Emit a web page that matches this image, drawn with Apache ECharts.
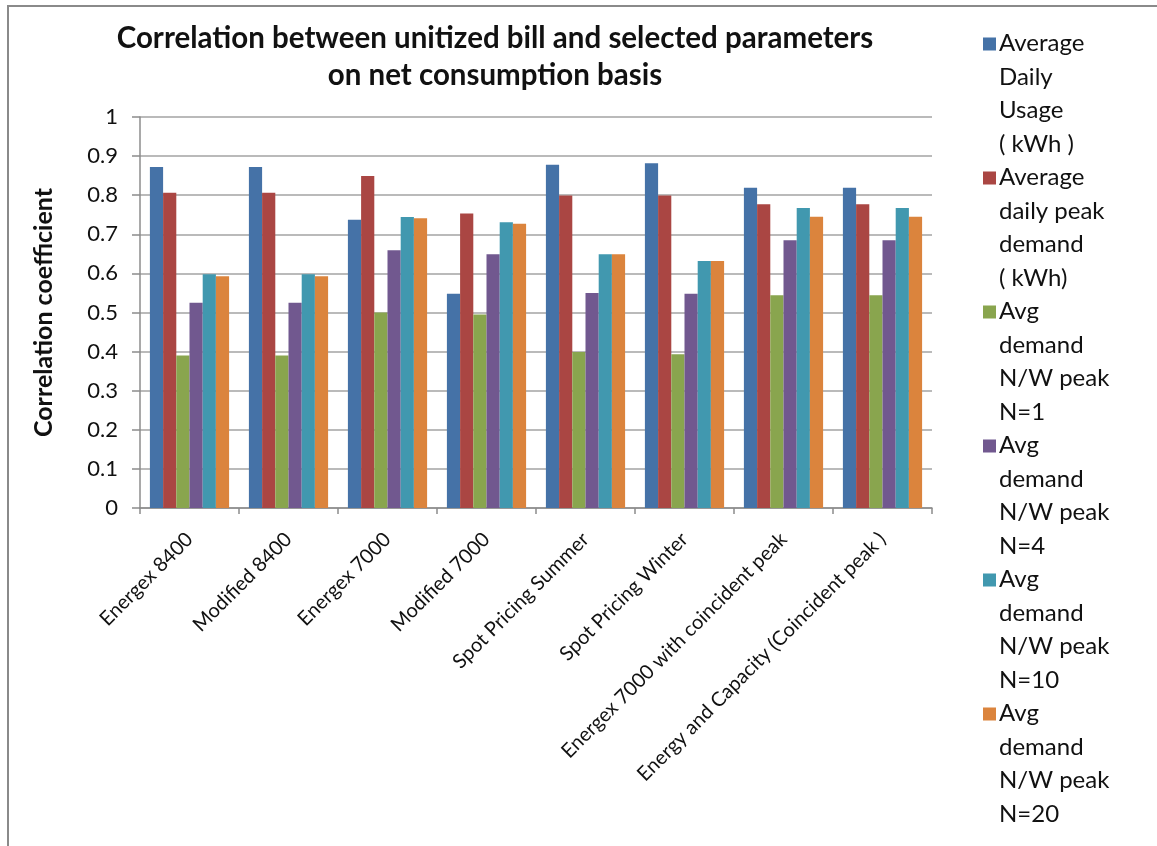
<!DOCTYPE html>
<html>
<head>
<meta charset="utf-8">
<script src="https://cdn.jsdelivr.net/npm/echarts@6/dist/echarts.min.js"></script>
<style>
  html, body { margin: 0; padding: 0; background: #fff; overflow: hidden; }
  #frame { position: absolute; left: 7px; top: 5px; width: 1200px; height: 900px;
           border-left: 2px solid #8a8a8a; border-top: 2px solid #8a8a8a; }
  #chart { position: absolute; left: 0; top: 0; width: 1157px; height: 846px; }
</style>
</head>
<body>
<div id="frame"></div>
<div id="chart"></div>
<script>
// Tariff scenarios along the x axis
const categories = [
  'Energex 8400',
  'Modified 8400',
  'Energex 7000',
  'Modified 7000',
  'Spot Pricing Summer',
  'Spot Pricing Winter',
  'Energex 7000 with coincident peak',
  'Energy and Capacity (Coincident peak )'
];

// Parameter names (legend entries)
const seriesNames = [
  'Average\nDaily\nUsage\n( kWh )',
  'Average\ndaily peak\ndemand\n( kWh)',
  'Avg\ndemand\nN/W peak\nN=1',
  'Avg\ndemand\nN/W peak\nN=4',
  'Avg\ndemand\nN/W peak\nN=10',
  'Avg\ndemand\nN/W peak\nN=20'
];

// Correlation coefficients, one array per parameter
const avgDailyUsage   = [0.872, 0.872, 0.737, 0.548, 0.878, 0.882, 0.819, 0.819];
const avgDailyPeak    = [0.806, 0.806, 0.849, 0.753, 0.799, 0.799, 0.777, 0.777];
const avgDemandN1     = [0.390, 0.390, 0.500, 0.495, 0.399, 0.393, 0.544, 0.544];
const avgDemandN4     = [0.525, 0.525, 0.659, 0.649, 0.550, 0.548, 0.685, 0.685];
const avgDemandN10    = [0.598, 0.598, 0.744, 0.731, 0.649, 0.632, 0.767, 0.767];
const avgDemandN20    = [0.593, 0.593, 0.741, 0.727, 0.649, 0.632, 0.745, 0.745];

// Y axis ticks
const yMin = 0, yMax = 1, yStep = 0.1;

const seriesData = [avgDailyUsage, avgDailyPeak, avgDemandN1, avgDemandN4, avgDemandN10, avgDemandN20];
const colors = ['#4572A7', '#AA4643', '#89A54E', '#71588F', '#4198AF', '#DB843D'];

const font = 'Lato, "Open Sans", "Liberation Sans", sans-serif';

// Legend marker: a square sitting on the first text line of a 4-line entry
const legendLine = 33.5;
const legendIcon = 'path://M0,10.5L13,10.5L13,23.5L0,23.5Z M0,0L13,0 M0,134L13,134';

const chart = echarts.init(document.getElementById('chart'), null, { renderer: 'canvas' });

chart.setOption({
  animation: false,
  backgroundColor: 'transparent',
  color: colors,
  title: {
    text: 'Correlation between unitized bill and selected parameters\non net consumption basis',
    left: 490,
    top: 15,
    textAlign: 'center',
    textStyle: { fontFamily: font, fontWeight: 'bold', fontSize: 29.5, lineHeight: 37, color: '#111' }
  },
  legend: {
    orient: 'vertical',
    left: 978,
    top: 22,
    itemGap: 0,
    itemWidth: 13,
    itemHeight: 134,
    icon: legendIcon,
    data: seriesNames,
    textStyle: { fontFamily: font, fontSize: 24, lineHeight: legendLine, color: '#111', padding: [0, 0, 0, -2] }
  },
  grid: { left: 140, right: 225, top: 117, bottom: 338 },
  xAxis: {
    type: 'category',
    data: categories,
    axisLine: { lineStyle: { color: '#8c8c8c', width: 1.5 } },
    axisTick: { show: true, length: 6, lineStyle: { color: '#8c8c8c', width: 1.5 } },
    axisLabel: {
      interval: 0,
      rotate: 45,
      margin: 28,
      fontFamily: font,
      fontSize: 20,
      color: '#111'
    }
  },
  yAxis: {
    type: 'value',
    min: yMin,
    max: yMax,
    interval: yStep,
    name: 'Correlation coefficient',
    nameLocation: 'middle',
    nameGap: 84,
    nameTextStyle: { fontFamily: font, fontWeight: 'bold', fontSize: 25, color: '#111' },
    axisLine: { show: true, lineStyle: { color: '#8c8c8c', width: 1.5 } },
    axisTick: { show: true, length: 8, lineStyle: { color: '#8c8c8c', width: 1.5 } },
    axisLabel: {
      margin: 22,
      fontFamily: font,
      fontSize: 22,
      color: '#111',
      formatter: v => String(Math.round(v * 10) / 10)
    },
    splitLine: { show: true, lineStyle: { color: '#a3a3a3', width: 1.5 } }
  },
  series: seriesNames.map((name, i) => ({
    name: name,
    type: 'bar',
    data: seriesData[i],
    barGap: '0%',
    barCategoryGap: '20%',
    itemStyle: { color: colors[i] }
  }))
});
</script>
</body>
</html>
